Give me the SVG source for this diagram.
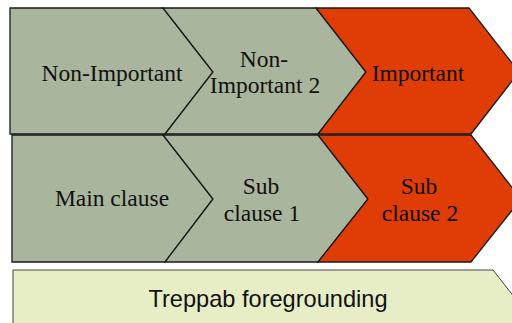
<svg xmlns="http://www.w3.org/2000/svg" width="512" height="323" viewBox="0 0 512 323">
<style>
.g{fill:#a9b59c;stroke:#1a1a1a;stroke-width:1.3;stroke-linejoin:miter}
.r{fill:#df3c06;stroke:#1a1a1a;stroke-width:1.3}
.t{font-family:"Liberation Serif",serif;font-size:23.5px;fill:#111;text-anchor:middle}
.s{font-family:"Liberation Sans",sans-serif;font-size:23.6px;fill:#111;text-anchor:middle}
</style>
<rect width="512" height="323" fill="#fff"/>
<g id="n1"><path class="g" d="M10,8 L163,8 L213,72 L165,134 L10,134 Z"/><text class="t" x="112" y="81">Non-Important</text></g>
<g id="n2"><path class="g" d="M163,8 L316,8 L366,72 L318,134 L165,134 L213,72 Z"/><text class="t" x="264" y="67">Non-</text><text class="t" x="265" y="93">Important 2</text></g>
<g id="n3"><path class="r" d="M316,8 L469,8 L519,72 L471,134 L318,134 L366,72 Z"/><text class="t" x="418" y="81">Important</text></g>
<g id="n4"><path class="g" d="M12,135 L163,135 L213,199 L165,262 L12,262 Z"/><text class="t" x="112" y="206">Main clause</text></g>
<g id="n5"><path class="g" d="M163,135 L318,135 L368,199 L318,262 L165,262 L213,199 Z"/><text class="t" x="261" y="194">Sub</text><text class="t" x="262" y="221">clause 1</text></g>
<g id="n6"><path class="r" d="M318,135 L471,135 L521,199 L471,262 L318,262 L368,199 Z"/><text class="t" x="419" y="194">Sub</text><text class="t" x="420" y="221">clause 2</text></g>
<g id="n7"><path d="M13,270 L493,270 L540,330 L13,330 Z" fill="#e7eec6" stroke="#444" stroke-width="1"/><text class="s" x="268" y="307">Treppab foregrounding</text></g>
<g id="connectors"/>
</svg>
